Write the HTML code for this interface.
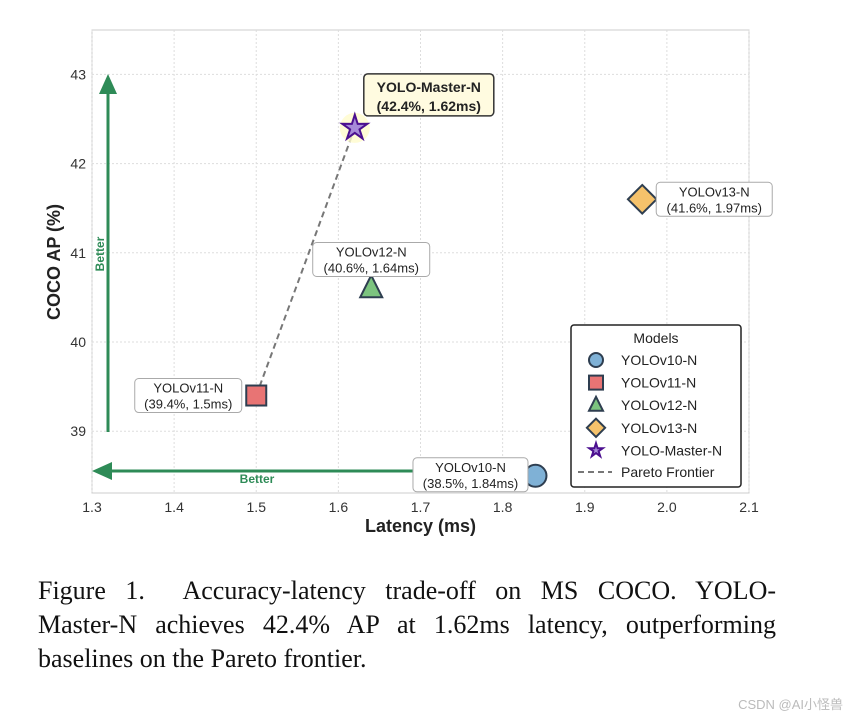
<!DOCTYPE html>
<html><head><meta charset="utf-8"><style>
body{margin:0;background:#fff;width:863px;height:718px;overflow:hidden;font-family:"Liberation Sans",sans-serif}
.cap{position:absolute;left:38px;top:574px;width:738px;font-family:"Liberation Serif",serif;font-size:26px;line-height:34px;color:#111}
.cap div{text-align:justify;text-align-last:justify;white-space:nowrap}
.cap div.last{text-align-last:left}
.wm{position:absolute;right:20px;top:694px;font-size:13px;color:#bbb;font-family:"Liberation Sans","Noto Sans CJK SC",sans-serif}
</style></head><body>
<svg id="chart" width="863" height="718" style="position:absolute;left:0;top:0" font-family="Liberation Sans, sans-serif"></svg>
<div class="cap"><div>Figure 1.&nbsp; Accuracy-latency trade-off on MS COCO. YOLO-</div><div>Master-N achieves 42.4% AP at 1.62ms latency, outperforming</div><div class="last">baselines on the Pareto frontier.</div></div>
<div class="wm">CSDN @AI小怪兽</div>
<script>
const models=["YOLOv10-N","YOLOv11-N","YOLOv12-N","YOLOv13-N","YOLO-Master-N"];
const latency=[1.84,1.5,1.64,1.97,1.62];
const ap=[38.5,39.4,40.6,41.6,42.4];
const xTicks=[1.3,1.4,1.5,1.6,1.7,1.8,1.9,2.0,2.1];
const yTicks=[39,40,41,42,43];
const pareto=[1,4];
const svg=document.getElementById('chart');
const NS="http://www.w3.org/2000/svg";
const L=92,R=749,T=30,B=493;
const X=v=>L+(v-1.3)/0.8*(R-L);
const Y=v=>342-(v-40)*89.2;
function el(t,a,p){const e=document.createElementNS(NS,t);for(const k in a)e.setAttribute(k,a[k]);(p||svg).appendChild(e);return e;}
const frame=el('rect',{x:L,y:T,width:R-L,height:B-T,fill:'#fff',stroke:'#ccc'});


xTicks.forEach(t=>{
 const g=el('line',{x1:X(t),x2:X(t),y1:T,y2:B,stroke:'#ddd','stroke-dasharray':'2,2'});
 
 
 const tx=el('text',{x:X(t),y:B+19,'text-anchor':'middle','font-size':14,fill:'#333'});tx.textContent=t.toFixed(1);
 
 
});
yTicks.forEach(t=>{
 const g=el('line',{x1:L,x2:R,y1:Y(t),y2:Y(t),stroke:'#ddd','stroke-dasharray':'2,2'});
 
 
 const tx=el('text',{x:L-6,y:Y(t)+5,'text-anchor':'end','font-size':14,fill:'#333'});tx.textContent=t;
 
 
});
let t=el('text',{x:(L+R)/2,y:532,'text-anchor':'middle','font-size':18,'font-weight':'bold',fill:'#222'});t.textContent='Latency (ms)';

t=el('text',{x:60,y:262,'text-anchor':'middle','font-size':18,'font-weight':'bold',fill:'#222',transform:'rotate(-90 60 262)'});t.textContent='COCO AP (%)';

const gc='#2e8b57';
let a=el('line',{x1:108,y1:432,x2:108,y2:92,stroke:gc,'stroke-width':3});

el('polygon',{points:'99,94 117,94 108,74',fill:gc});
t=el('text',{x:104,y:254,'text-anchor':'middle','font-size':12,'font-weight':'bold',fill:gc,transform:'rotate(-90 104 254)'});t.textContent='Better';

a=el('line',{x1:535,y1:471,x2:110,y2:471,stroke:gc,'stroke-width':3});

el('polygon',{points:'112,462 112,480 92,471',fill:gc});
t=el('text',{x:257,y:483,'text-anchor':'middle','font-size':12,'font-weight':'bold',fill:gc});t.textContent='Better';

const pl=el('polyline',{points:pareto.map(i=>X(latency[i])+','+Y(ap[i])).join(' '),fill:'none',stroke:'#777','stroke-width':2,'stroke-dasharray':'6,4'});

const fills=['#7fb1d6','#e87474','#7cc47f','#f5c26b','#a68ad8'];
const edge='#2e3e50';
function marker(i,cx,cy,s,g){
 if(i===0)return el('circle',{cx,cy,r:s,fill:fills[0],stroke:edge,'stroke-width':2},g);
 if(i===1)return el('rect',{x:cx-s,y:cy-s,width:2*s,height:2*s,fill:fills[1],stroke:edge,'stroke-width':2},g);
 if(i===2)return el('polygon',{points:`${cx},${cy-s*1.2} ${cx+s},${cy+s*0.8} ${cx-s},${cy+s*0.8}`,fill:fills[2],stroke:edge,'stroke-width':2},g);
 if(i===3)return el('polygon',{points:`${cx},${cy-s*1.3} ${cx+s*1.3},${cy} ${cx},${cy+s*1.3} ${cx-s*1.3},${cy}`,fill:fills[3],stroke:edge,'stroke-width':2},g);
 let p=[];for(let k=0;k<10;k++){const r=k%2?s*0.45:s*1.2,an=-Math.PI/2+k*Math.PI/5;p.push((cx+r*Math.cos(an)).toFixed(1)+','+(cy+r*Math.sin(an)).toFixed(1));}
 return el('polygon',{points:p.join(' '),fill:fills[4],stroke:'#4b0f8f','stroke-width':2},g);
}
const sizes=[11,10,11,11,11];
const lab=[[-65,-1,115],[-68,0,107],[0,-29,117],[72,0,116],[74,-33,130]];
models.forEach((m,i)=>{
 const cx=X(latency[i]),cy=Y(ap[i]);
 if(i===4)el('circle',{cx,cy,r:15,fill:'#fffbcc',opacity:0.8});
 const mk=marker(i,cx,cy,sizes[i]);
 
 
 const big=i===4;
 const l1=m,l2=`(${ap[i].toFixed(1)}%, ${latency[i]}ms)`;
 const fs=big?14:13;const w=lab[i][2],h=big?42:34;
 const bx=cx+lab[i][0]-w/2,by=cy+lab[i][1]-h/2;
 const g=el('g',{});
 
 
 el('rect',{x:bx,y:by,width:w,height:h,rx:4,fill:big?'#fffbe0':'#fff',stroke:big?'#333':'#aaa','stroke-width':big?1.5:1},g);
 const a1=el('text',{x:bx+w/2,y:by+h/2-3,'text-anchor':'middle','font-size':fs,'font-weight':big?'bold':'normal',fill:'#222'},g);a1.textContent=l1;
 const a2=el('text',{x:bx+w/2,y:by+h/2+(big?16:13),'text-anchor':'middle','font-size':fs,'font-weight':big?'bold':'normal',fill:'#222'},g);a2.textContent=l2;
});
const lg=el('g',{});


el('rect',{x:571,y:325,width:170,height:162,rx:3,fill:'#fff',stroke:'#222','stroke-width':1.5},lg);
t=el('text',{x:656,y:343,'text-anchor':'middle','font-size':14,fill:'#222'},lg);t.textContent='Models';
models.forEach((m,i)=>{
 const y=360+i*22.6;
 const e=el('g',{},lg);
 
 
 marker(i,596,y,i===4?6:7,e);
 const tx=el('text',{x:621,y:y+5,'font-size':14,fill:'#222'},e);tx.textContent=m;
});
const pe=el('g',{},lg);


el('line',{x1:578,x2:612,y1:472,y2:472,stroke:'#777','stroke-width':2,'stroke-dasharray':'6,4'},pe);
t=el('text',{x:621,y:477,'font-size':14,fill:'#222'},pe);t.textContent='Pareto Frontier';
</script>
</body></html>
